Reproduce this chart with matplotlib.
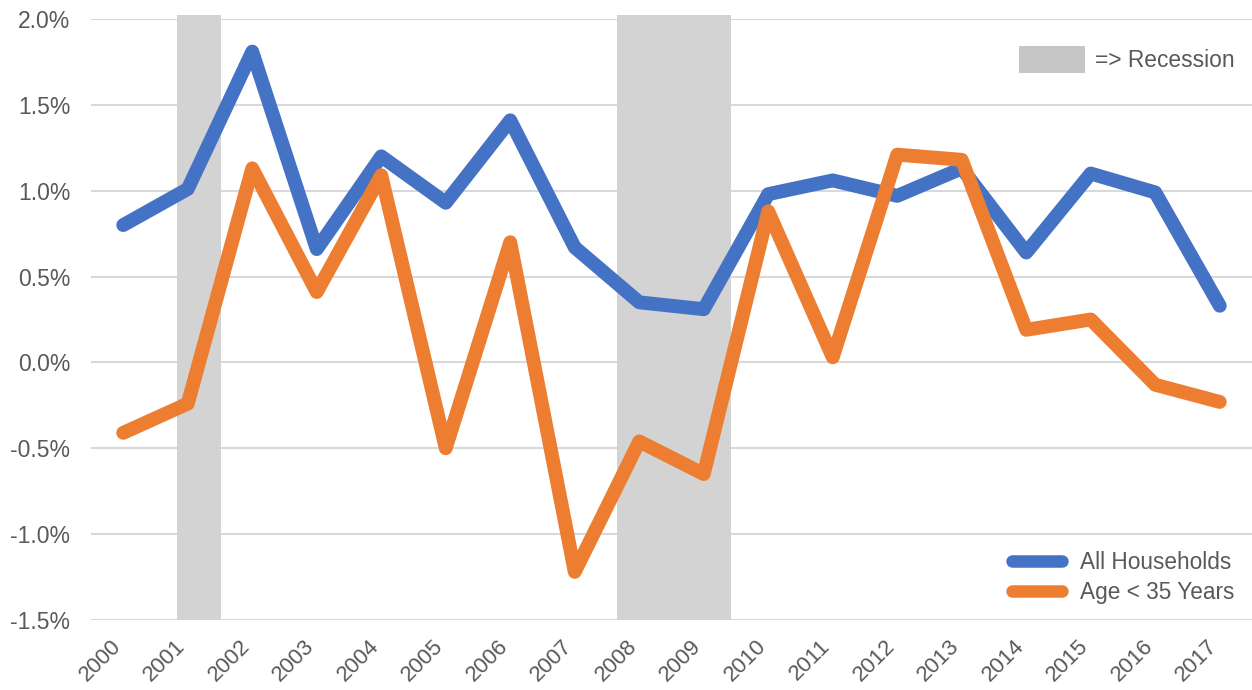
import matplotlib
matplotlib.use("Agg")
import matplotlib.pyplot as plt
import matplotlib.transforms as mtransforms
from matplotlib.lines import Line2D
from matplotlib.patches import Patch
from matplotlib.ticker import FuncFormatter

plt.rcParams['font.family'] = ['Liberation Sans', 'DejaVu Sans']

years = list(range(2000, 2018))
all_households = [0.80, 1.01, 1.81, 0.66, 1.20, 0.93, 1.41, 0.67, 0.35, 0.31,
                  0.98, 1.06, 0.97, 1.13, 0.64, 1.10, 0.99, 0.33]
age_under_35 = [-0.41, -0.24, 1.13, 0.41, 1.09, -0.50, 0.70, -1.22, -0.46, -0.65,
                0.88, 0.03, 1.21, 1.18, 0.19, 0.25, -0.13, -0.23]
recession_start = [2000.83, 2007.65]
recession_end = [2001.51, 2009.43]
y_ticks = [-1.5, -1.0, -0.5, 0.0, 0.5, 1.0, 1.5, 2.0]
series_labels = ["All Households", "Age < 35 Years"]

BLUE = "#4472C4"
ORANGE = "#ED7D31"
TEXT = "#595959"
GRID = "#D9D9D9"
SHADE = "#D3D3D3"

W, H = 1252, 690
fig = plt.figure(figsize=(W / 100, H / 100), dpi=100)
ax = fig.add_axes([91 / W, 1 - 620 / H, 1 - 91 / W, (620 - 19) / H])

for s, e in zip(recession_start, recession_end):
    ax.axvspan(s, e, ymin=0, ymax=1 + 4 / 601, color=SHADE, lw=0, zorder=1, clip_on=False)

ax.plot(years, all_households, color=BLUE, lw=10, solid_capstyle='round',
        solid_joinstyle='round', zorder=3)
ax.plot(years, age_under_35, color=ORANGE, lw=10, solid_capstyle='round',
        solid_joinstyle='round', zorder=4)

ax.set_xlim(1999.5, 2017.5)
ax.set_ylim(-1.5, 2.0)
ax.set_yticks(y_ticks)
ax.yaxis.set_major_formatter(FuncFormatter(lambda v, p: f"{v:.1f}%"))
ax.set_xticks(years)
ax.set_xticklabels([str(y) for y in years])
ax.grid(axis='y', color=GRID, lw=1.5, zorder=0)
ax.set_axisbelow(True)
for sp in ax.spines.values():
    sp.set_visible(False)
ax.tick_params(axis='both', length=0, labelsize=16.5, colors=TEXT)
ax.tick_params(axis='y', pad=15)
ax.tick_params(axis='x', pad=11, labelsize=16)
offset = mtransforms.ScaledTranslation(-13 / 100, 0, fig.dpi_scale_trans)
for lab in ax.get_xticklabels():
    lab.set_rotation(45)
    lab.set_ha('right')
    lab.set_va('top')
    lab.set_rotation_mode('anchor')
    lab.set_transform(lab.get_transform() + offset)

# Recession legend
leg1 = ax.legend(handles=[Patch(facecolor="#C6C6C6", edgecolor='none', label="=> Recession")],
                 loc='upper left', bbox_to_anchor=(1019 / W, 1 - 46 / H),
                 bbox_transform=fig.transFigure, frameon=False, fontsize=16.4,
                 handlelength=2.9, handleheight=1.45, handletextpad=0.42,
                 borderpad=0, borderaxespad=0, labelcolor=TEXT)
ax.add_artist(leg1)

handles = [Line2D([], [], color=BLUE, lw=9, solid_capstyle='round'),
           Line2D([], [], color=ORANGE, lw=9, solid_capstyle='round')]
ax.legend(handles=handles, labels=series_labels, loc='upper left',
          bbox_to_anchor=(1012 / W, 1 - 551 / H), bbox_transform=fig.transFigure,
          frameon=False, fontsize=16.3, handlelength=2.2, handletextpad=0.8,
          labelspacing=0.3, borderpad=0, borderaxespad=0, labelcolor=TEXT)

fig.savefig("out.png", dpi=100)
